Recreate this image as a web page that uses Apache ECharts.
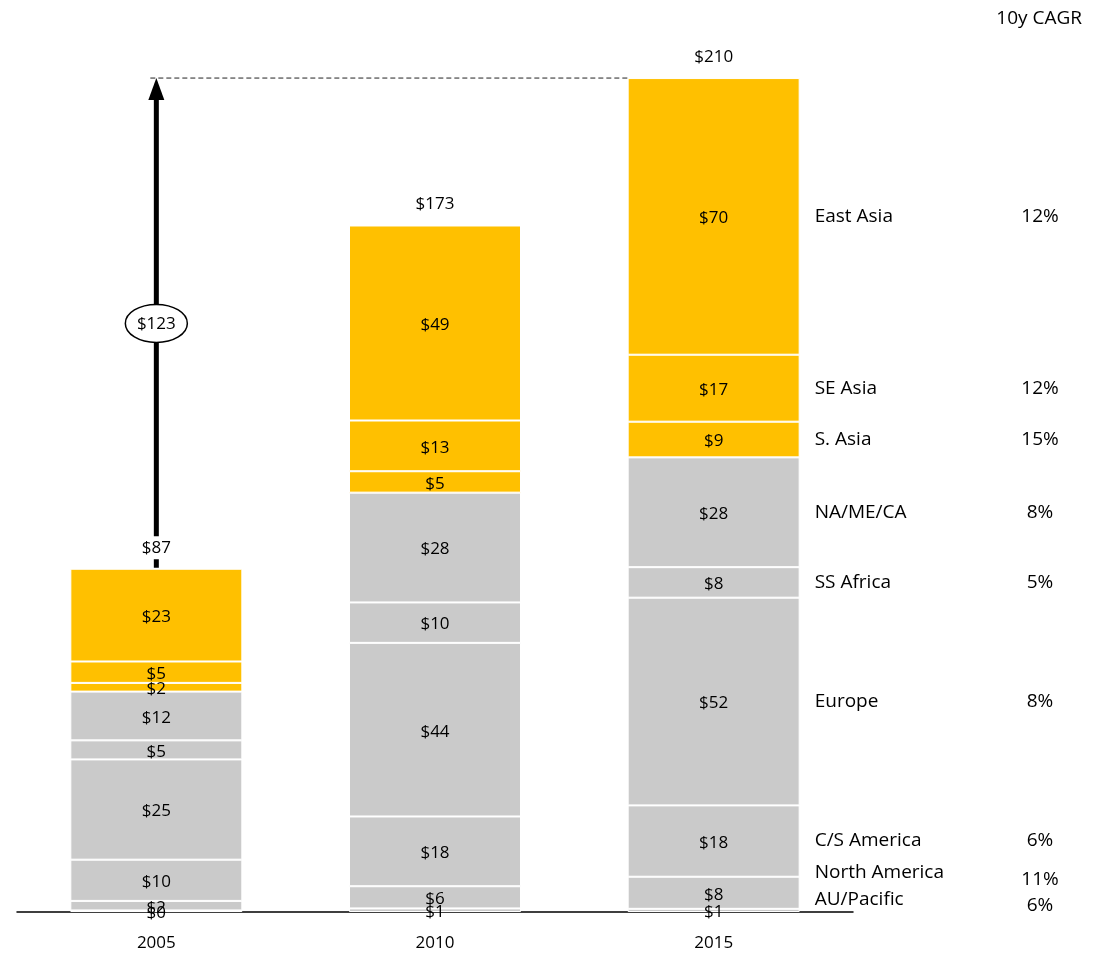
<!DOCTYPE html>
<html>
<head>
<meta charset="utf-8">
<script src="https://cdn.jsdelivr.net/npm/echarts@6/dist/echarts.min.js"></script>
<style>
  html, body { margin: 0; padding: 0; background: #fff; }
  #chart { width: 1097px; height: 953px; }
</style>
</head>
<body>
<div id="chart"></div>
<script>
// Market size by region, $ billions (stacked bottom to top)
const years = ['2005', '2010', '2015'];
const regions = ['AU/Pacific', 'North America', 'C/S America', 'Europe', 'SS Africa', 'NA/ME/CA', 'S. Asia', 'SE Asia', 'East Asia'];
const auPacific    = [0.4, 0.9, 0.8];
const northAmerica = [2.4, 5.6, 8.1];
const csAmerica    = [10.4, 17.6, 18.0];
const europe       = [25.3, 43.8, 52.4];
const ssAfrica     = [4.8, 10.2, 7.7];
const naMeCa       = [12.3, 27.7, 27.7];
const sAsia        = [2.2, 5.4, 9.0];
const seAsia       = [5.4, 12.8, 16.9];
const eastAsia     = [23.4, 49.2, 69.8];
// 10-year compound annual growth, same order as regions
const cagr = ['6%', '11%', '6%', '8%', '5%', '8%', '15%', '12%', '12%'];

const seriesValues = [auPacific, northAmerica, csAmerica, europe, ssAfrica, naMeCa, sAsia, seAsia, eastAsia];
const asiaRegions = ['S. Asia', 'SE Asia', 'East Asia'];
const totals = years.map((_, i) => seriesValues.reduce((s, arr) => s + arr[i], 0));

const FONT = '"Open Sans", "Liberation Sans", sans-serif';
const YELLOW = '#FFC000';
const GREY = '#CACACA';
const BAR_WIDTH = 172;
const VALUE_SIZE = 17;
const NAME_SIZE = 19;
const money = v => '$' + Math.round(v);

// manual nudges for the two thin bottom segments so their names don't collide
const nameNudge = { 'North America': -20, 'AU/Pacific': -11 };
const cagrNudge = { 'North America': -13, 'AU/Pacific': -5 };

const barSeries = regions.map((name, k) => ({
  name,
  type: 'bar',
  stack: 'total',
  barWidth: BAR_WIDTH,
  data: seriesValues[k],
  itemStyle: {
    color: asiaRegions.includes(name) ? YELLOW : GREY,
    borderColor: '#fff',
    borderWidth: 1
  },
  label: {
    show: true,
    position: 'inside',
    offset: [0, 2],
    formatter: p => money(p.value),
    color: '#000',
    fontFamily: FONT,
    fontSize: VALUE_SIZE
  },
  emphasis: { disabled: true },
  z: 2
}));

// growth arrow from the 2005 total to the 2015 total, with dashed guide
const arrowSeries = {
  type: 'custom',
  z: 3,
  silent: true,
  data: [0],
  renderItem: (params, api) => {
    const base = api.coord([0, totals[0]]);
    const top = api.coord([0, totals[2]]);
    const right = api.coord([2, totals[2]]);
    const midY = (base[1] + top[1]) / 2;
    const delta = Math.round(totals[2]) - Math.round(totals[0]);
    return {
      type: 'group',
      children: [
        {
          type: 'line',
          shape: { x1: base[0] - 6, y1: top[1], x2: right[0] - BAR_WIDTH / 2, y2: top[1] },
          style: { stroke: '#222', lineWidth: 1, lineDash: [5, 3] }
        },
        {
          type: 'line',
          shape: { x1: base[0], y1: base[1] - 1, x2: base[0], y2: top[1] + 18 },
          style: { stroke: '#000', lineWidth: 5 }
        },
        {
          type: 'polygon',
          shape: { points: [[base[0] - 8, top[1] + 22], [base[0] + 8, top[1] + 22], [base[0], top[1]]] },
          style: { fill: '#000' }
        },
        {
          type: 'ellipse',
          shape: { cx: base[0], cy: midY, rx: 31, ry: 19 },
          style: { fill: '#fff', stroke: '#000', lineWidth: 1.5 }
        },
        {
          type: 'text',
          x: base[0], y: midY + 1,
          style: { text: money(delta), fill: '#000', font: VALUE_SIZE + 'px ' + FONT, align: 'center', verticalAlign: 'middle' }
        }
      ]
    };
  }
};

// stack totals above each bar
const totalSeries = {
  type: 'custom',
  z: 4,
  silent: true,
  data: totals.map((t, i) => [i, t]),
  renderItem: (params, api) => {
    const p = api.coord([api.value(0), api.value(1)]);
    return {
      type: 'text',
      x: p[0], y: p[1] - 21,
      style: {
        text: money(api.value(1)), fill: '#000', font: VALUE_SIZE + 'px ' + FONT,
        align: 'center', verticalAlign: 'middle',
        backgroundColor: '#fff', padding: [3, 4]
      }
    };
  }
};

// region names and CAGR beside the 2015 bar
const sideSeries = {
  type: 'custom',
  z: 4,
  silent: true,
  data: [0],
  renderItem: (params, api) => {
    const children = [];
    let cum = 0;
    regions.forEach((name, k) => {
      const v = seriesValues[k][2];
      const p = api.coord([2, cum + v / 2]);
      cum += v;
      children.push({
        type: 'text',
        x: p[0] + BAR_WIDTH / 2 + 15, y: p[1] + (nameNudge[name] || 0),
        style: { text: name, fill: '#000', font: NAME_SIZE + 'px ' + FONT, align: 'left', verticalAlign: 'middle' }
      });
      children.push({
        type: 'text',
        x: api.getWidth() - 57, y: p[1] + (cagrNudge[name] || 0),
        style: { text: cagr[k], fill: '#000', font: NAME_SIZE + 'px ' + FONT, align: 'center', verticalAlign: 'middle' }
      });
    });
    return { type: 'group', children };
  }
};

const chart = echarts.init(document.getElementById('chart'), null, { renderer: 'canvas' });
chart.setOption({
  animation: false,
  backgroundColor: '#fff',
  title: {
    text: '10y CAGR',
    right: 10,
    top: 4,
    textStyle: { fontFamily: FONT, fontSize: NAME_SIZE, fontWeight: 'normal', color: '#000' }
  },
  grid: { left: 17, right: 244, top: 40, bottom: 41 },
  xAxis: {
    type: 'category',
    data: years,
    axisLine: { show: true, lineStyle: { color: '#000', width: 1.5 } },
    axisTick: { show: false },
    axisLabel: { color: '#000', fontFamily: FONT, fontSize: VALUE_SIZE, margin: 23 }
  },
  yAxis: {
    type: 'value',
    min: 0,
    max: 220,
    show: false,
    splitLine: { show: false }
  },
  series: [...barSeries, arrowSeries, totalSeries, sideSeries]
});
</script>
</body>
</html>
